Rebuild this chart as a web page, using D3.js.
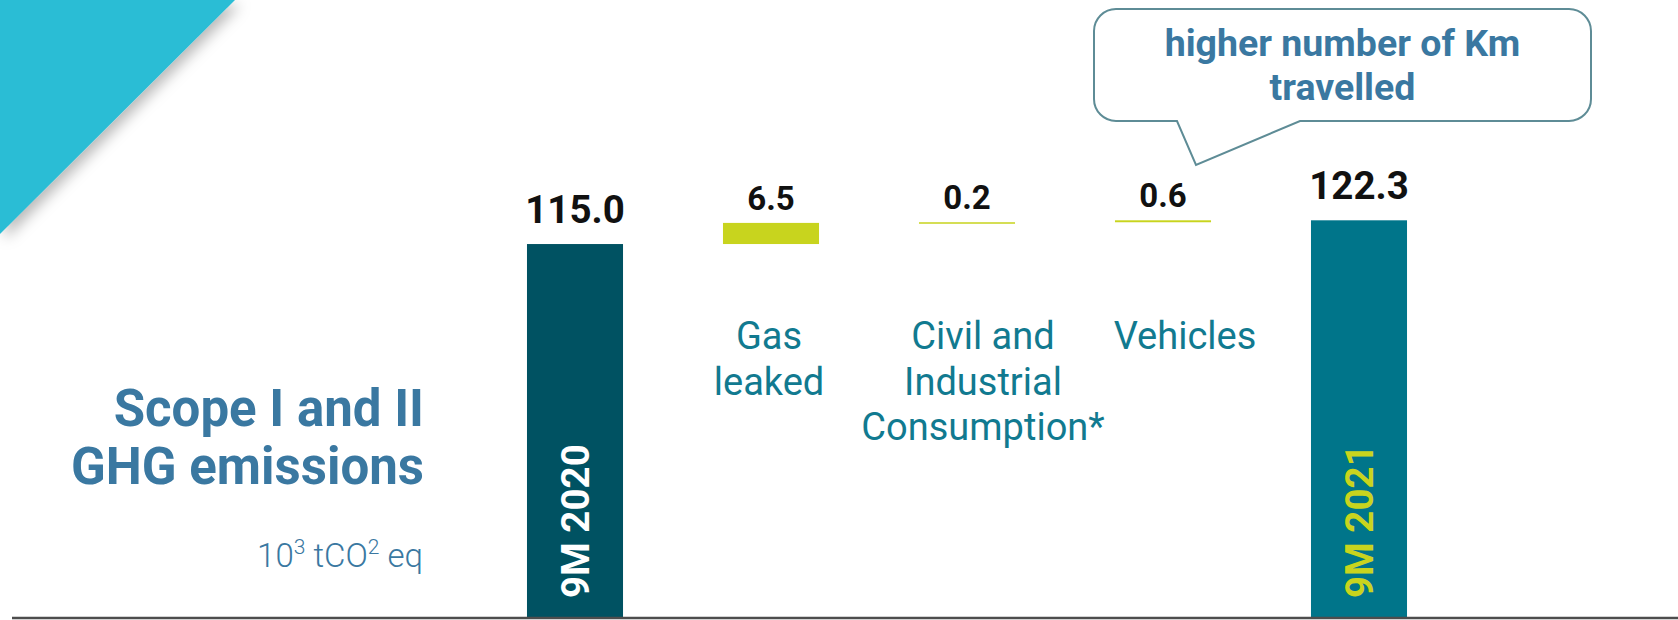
<!DOCTYPE html>
<html>
<head>
<meta charset="utf-8">
<script src="https://cdn.jsdelivr.net/npm/d3@7"></script>
<style>
  html, body { margin: 0; padding: 0; background: #ffffff; }
  svg { display: block; font-family: Roboto, "Noto Sans", sans-serif; }
</style>
</head>
<body>
<svg id="chart" width="1678" height="620"></svg>
<script>
// ---- data ----
const categories = ["9M 2020", "Gas leaked", "Civil and Industrial Consumption*", "Vehicles", "9M 2021"];
const values = [115.0, 6.5, 0.2, 0.6, 122.3];
const kinds = ["total", "delta", "delta", "delta", "total"];
const valueLabels = ["115.0", "6.5", "0.2", "0.6", "122.3"];
const categoryLines = [["9M 2020"], ["Gas", "leaked"], ["Civil and", "Industrial", "Consumption*"], ["Vehicles"], ["9M 2021"]];
const titleLines = ["Scope I and II", "GHG emissions"];
const calloutLines = ["higher number of Km", "travelled"];

// ---- layout / style ----
const W = 1678, H = 620;
const svg = d3.select("#chart");
const labelShift = [0, -2, 16, 22, 0];

// waterfall computation
let running = 0;
const rows = categories.map((c, i) => {
  let y0, y1;
  if (kinds[i] === "total") { y0 = 0; y1 = values[i]; running = values[i]; }
  else { y0 = running; y1 = running + values[i]; running = y1; }
  return { cat: c, value: values[i], kind: kinds[i], y0, y1, label: valueLabels[i], lines: categoryLines[i], i };
});

const x = d3.scaleBand().domain(categories).range([477, 1457]).paddingInner(0.51).paddingOuter(0.255);
const y = d3.scaleLinear().domain([0, d3.max(values)]).range([618, 220.3]);

// background triangle with shadow
const defs = svg.append("defs");
const f = defs.append("filter").attr("id", "shadow").attr("x", "-20%").attr("y", "-20%").attr("width", "160%").attr("height", "160%");
f.append("feDropShadow").attr("dx", 5).attr("dy", 5).attr("stdDeviation", 7).attr("flood-color", "#000").attr("flood-opacity", 0.28);
svg.append("path")
  .attr("d", "M0,0 L235,0 L0,234 Z")
  .attr("fill", "#2BBDD5")
  .attr("filter", "url(#shadow)");

const colors = ["#005262", "#C8D41E", "#C8D41E", "#C8D41E", "#00758A"];

// bars
svg.append("g").selectAll("rect").data(rows).join("rect")
  .attr("x", d => x(d.cat))
  .attr("width", x.bandwidth())
  .attr("y", d => y(Math.max(d.y0, d.y1)))
  .attr("height", d => Math.max(1.5, Math.abs(y(d.y0) - y(d.y1))))
  .attr("fill", (d, i) => colors[i]);

// value labels
svg.append("g").selectAll("text").data(rows).join("text")
  .attr("x", d => x(d.cat) + x.bandwidth() / 2)
  .attr("y", d => y(Math.max(d.y0, d.y1)) - (d.kind === "total" ? 21 : 13))
  .attr("text-anchor", "middle")
  .attr("font-weight", 700)
  .attr("font-size", d => d.kind === "total" ? 38.5 : 33)
  .attr("fill", "#111111")
  .text(d => d.label);

// rotated labels inside total bars
svg.append("g").selectAll("text").data(rows.filter(d => d.kind === "total")).join("text")
  .attr("transform", d => `translate(${x(d.cat) + x.bandwidth() / 2},${598}) rotate(-90)`)
  .attr("dy", "0.36em")
  .attr("font-weight", 700)
  .attr("font-size", 38.5)
  .attr("fill", d => d.i === 0 ? "#ffffff" : "#C8D41E")
  .text(d => d.cat);

// category labels under delta bars
const catG = svg.append("g");
rows.filter(d => d.kind === "delta").forEach(d => {
  const t = catG.append("text")
    .attr("x", x(d.cat) + x.bandwidth() / 2 + labelShift[d.i])
    .attr("y", 349)
    .attr("text-anchor", "middle")
    .attr("font-size", 38)
    .attr("fill", "#117A90");
  d.lines.forEach((ln, k) => {
    t.append("tspan").attr("x", x(d.cat) + x.bandwidth() / 2 + labelShift[d.i]).attr("dy", k === 0 ? 0 : 45.5).text(ln);
  });
});

// baseline axis
svg.append("line")
  .attr("x1", 12).attr("x2", W)
  .attr("y1", y(0)).attr("y2", y(0))
  .attr("stroke", "#4d4d4d").attr("stroke-width", 2.5);

// title
const title = svg.append("text")
  .attr("text-anchor", "end")
  .attr("font-weight", 700)
  .attr("font-size", 51)
  .attr("fill", "#3A78A1");
titleLines.forEach((ln, k) => {
  title.append("tspan").attr("x", 424).attr("y", 426 + k * 58).text(ln);
});

// unit
const unit = svg.append("text")
  .attr("x", 423).attr("y", 567)
  .attr("text-anchor", "end")
  .attr("font-weight", 300)
  .attr("font-size", 33)
  .attr("fill", "#3A78A1");
unit.append("tspan").text("10");
unit.append("tspan").attr("font-size", 21).attr("dy", -13).text("3");
unit.append("tspan").attr("dy", 13).text(" tCO");
unit.append("tspan").attr("font-size", 21).attr("dy", -13).text("2");
unit.append("tspan").attr("dy", 13).text(" eq");

// callout
const bx0 = 1094, by0 = 9, bx1 = 1591, by1 = 121, r = 22;
const tailL = 1177, tailR = 1300, tipX = 1196, tipY = 165;
const p = d3.path();
p.moveTo(bx0 + r, by0);
p.lineTo(bx1 - r, by0);
p.arcTo(bx1, by0, bx1, by0 + r, r);
p.lineTo(bx1, by1 - r);
p.arcTo(bx1, by1, bx1 - r, by1, r);
p.lineTo(tailR, by1);
p.lineTo(tipX, tipY);
p.lineTo(tailL, by1);
p.lineTo(bx0 + r, by1);
p.arcTo(bx0, by1, bx0, by1 - r, r);
p.lineTo(bx0, by0 + r);
p.arcTo(bx0, by0, bx0 + r, by0, r);
p.closePath();
svg.append("path").attr("d", p.toString())
  .attr("fill", "#ffffff").attr("stroke", "#5E8C96").attr("stroke-width", 2);

const ct = svg.append("text")
  .attr("text-anchor", "middle")
  .attr("font-weight", 700)
  .attr("font-size", 37.5)
  .attr("fill", "#3A78A1");
calloutLines.forEach((ln, k) => {
  ct.append("tspan").attr("x", (bx0 + bx1) / 2).attr("y", 56 + k * 44).text(ln);
});
</script>
</body>
</html>
